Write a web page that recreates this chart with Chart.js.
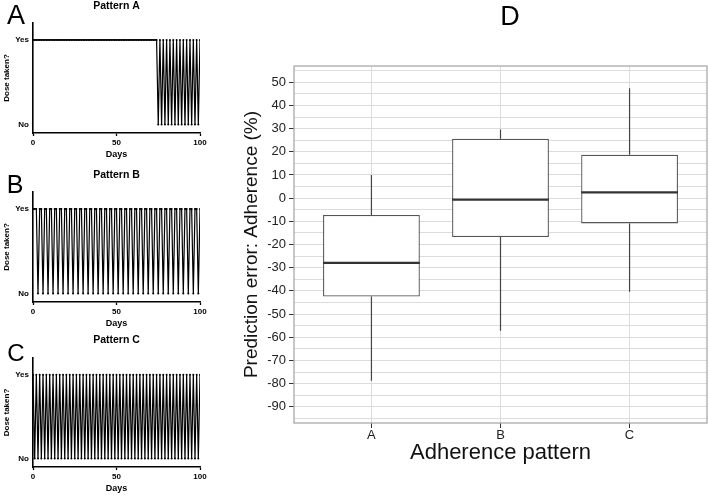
<!DOCTYPE html>
<html><head><meta charset="utf-8">
<script src="https://cdn.jsdelivr.net/npm/chart.js@4/dist/chart.umd.min.js"></script>
<style>
html,body{margin:0;padding:0;background:#fff;}
#wrap{position:relative;width:709px;height:496px;overflow:hidden;background:#fff;}
canvas{position:absolute;}
.lab{position:absolute;font-family:'Liberation Sans',Arial,sans-serif;color:#000;line-height:1;transform:translate(-50%,-50%);white-space:nowrap;}
</style></head><body>
<div id="wrap">
<canvas id="cA" width="210" height="160" style="left:0;top:0"></canvas>
<canvas id="cB" width="210" height="169" style="left:0;top:160px"></canvas>
<canvas id="cC" width="210" height="174" style="left:0;top:320px"></canvas>
<canvas id="cD" width="479" height="496" style="left:230px;top:0"></canvas>
<div class="lab" style="left:16px;top:15px;font-size:27px">A</div>
<div class="lab" style="left:15px;top:184px;font-size:25px">B</div>
<div class="lab" style="left:16px;top:353px;font-size:24px">C</div>
<div class="lab" style="left:510px;top:16px;font-size:27px">D</div>
</div>
<script>
// ---------- Panels A–C: dosing patterns ----------
const days = [0,1,2,3,4,5,6,7,8,9,10,11,12,13,14,15,16,17,18,19,
  20,21,22,23,24,25,26,27,28,29,30,31,32,33,34,35,36,37,38,39,
  40,41,42,43,44,45,46,47,48,49,50,51,52,53,54,55,56,57,58,59,
  60,61,62,63,64,65,66,67,68,69,70,71,72,73,74,75,76,77,78,79,
  80,81,82,83,84,85,86,87,88,89,90,91,92,93,94,95,96,97,98,99,100];
const dayTicks = [0, 50, 100];
const doseLabels = ['No', 'Yes'];

const patternA = [
  1,1,1,1,1, 1,1,1,1,1, 1,1,1,1,1, 1,1,1,1,1, 1,1,1,1,1,
  1,1,1,1,1, 1,1,1,1,1, 1,1,1,1,1, 1,1,1,1,1, 1,1,1,1,1,
  1,1,1,1,1, 1,1,1,1,1, 1,1,1,1,1, 1,1,1,1,1, 1,1,1,1,1,
  0,1,0,1,0,1,0,1,0,1,0,1,0,1,0,1,0,1,0,1,0,1,0,1,0,1];
const patternB = [1,1,1,
  0,1,1,0,1,1,0,1,1,0,1,1,0,1,1,0,1,1,0,1,1,0,1,1,
  0,1,1,0,1,1,0,1,1,0,1,1,0,1,1,0,1,1,0,1,1,0,1,1,
  0,1,1,0,1,1,0,1,1,0,1,1,0,1,1,0,1,1,0,1,1,0,1,1,
  0,1,1,0,1,1,0,1,1,0,1,1,0,1,1,0,1,1,0,1,1,0,1,1,
  0,1];
const patternC = [
  1,0,1,0,1,0,1,0,1,0,1,0,1,0,1,0,1,0,1,0,
  1,0,1,0,1,0,1,0,1,0,1,0,1,0,1,0,1,0,1,0,
  1,0,1,0,1,0,1,0,1,0,1,0,1,0,1,0,1,0,1,0,
  1,0,1,0,1,0,1,0,1,0,1,0,1,0,1,0,1,0,1,0,
  1,0,1,0,1,0,1,0,1,0,1,0,1,0,1,0,1,0,1,0,
  1];

// ---------- Panel D: box plot ----------
const categories = ['A', 'B', 'C'];
const whiskerLow  = [-78.8, -57.2, -40.4];
const q1          = [-42.4, -16.8, -10.9];
const median      = [-27.9,  -0.6,   2.5];
const q3          = [ -7.3,  25.6,  18.7];
const whiskerHigh = [ 10.0,  29.6,  47.4];
const yGridValues = [55,50,45,40,35,30,25,20,15,10,5,0,-5,-10,-15,-20,-25,-30,-35,-40,-45,-50,-55,-60,-65,-70,-75,-80,-85,-90,-95];

const FONT = "'Liberation Sans', Arial, Helvetica, sans-serif";
Chart.defaults.font.family = FONT;

function patternChart(id, titleText, values, padTop, padBottom) {
  return new Chart(document.getElementById(id), {
    type: 'line',
    data: { datasets: [{
      data: days.map((d, i) => ({ x: d, y: values[i] })),
      borderColor: '#000', borderWidth: 1.2,
      pointRadius: 1, pointBackgroundColor: '#000', pointBorderWidth: 0,
      tension: 0
    }]},
    options: {
      responsive: false, animation: false, devicePixelRatio: 1,
      layout: { padding: { left: 0, right: 10, top: 0, bottom: 0 } },
      plugins: {
        legend: { display: false }, tooltip: { enabled: false },
        title: { display: true, text: titleText, fullSize: false, color: '#000',
          font: { family: FONT, size: 10.5, weight: 'bold' },
          padding: { top: padTop, bottom: padBottom } }
      },
      scales: {
        x: {
          type: 'linear', min: 0, max: 100,
          afterBuildTicks: s => { s.ticks = dayTicks.map(v => ({ value: v })); },
          afterFit: s => { s.height = 27; },
          ticks: { color: '#000', font: { family: FONT, size: 8, weight: 'bold' }, padding: 2, maxRotation: 0 },
          grid: { drawOnChartArea: false, drawTicks: true, tickLength: 3, tickColor: '#000', tickWidth: 1.3 },
          border: { display: true, color: '#000', width: 1.6 },
          title: { display: true, text: 'Days', color: '#000',
            font: { family: FONT, size: 9, weight: 'bold' }, padding: { top: 0, bottom: 0 } }
        },
        y: {
          type: 'linear', min: -0.1, max: 1.2,
          afterBuildTicks: s => { s.ticks = [{ value: 0 }, { value: 1 }]; },
          afterFit: s => { s.width = 33; },
          ticks: { color: '#000', font: { family: FONT, size: 8, weight: 'bold' }, padding: 4,
            callback: v => doseLabels[v] },
          grid: { drawOnChartArea: false, drawTicks: false },
          border: { display: true, color: '#000', width: 1.6 },
          title: { display: true, text: 'Dose taken?', color: '#000',
            font: { family: FONT, size: 8, weight: 'bold' }, padding: { top: 2, bottom: 0 } }
        }
      }
    }
  });
}

patternChart('cA', 'Pattern A', patternA, 0, 10.4);
patternChart('cB', 'Pattern B', patternB, 8.7, 10.7);
patternChart('cC', 'Pattern C', patternC, 13.7, 11.7);

const boxParts = {
  id: 'boxParts',
  afterDatasetsDraw(chart) {
    const { ctx, scales: { x, y } } = chart;
    const meta = chart.getDatasetMeta(0);
    ctx.save();
    categories.forEach((c, i) => {
      const bar = meta.data[i];
      const cx = x.getPixelForValue(i + 1);
      const half = bar.width / 2;
      ctx.strokeStyle = '#444'; ctx.lineWidth = 1.2;
      ctx.beginPath();
      ctx.moveTo(cx, y.getPixelForValue(whiskerHigh[i])); ctx.lineTo(cx, y.getPixelForValue(q3[i]));
      ctx.moveTo(cx, y.getPixelForValue(q1[i])); ctx.lineTo(cx, y.getPixelForValue(whiskerLow[i]));
      ctx.stroke();
      ctx.strokeStyle = '#333'; ctx.lineWidth = 2.2;
      const my = y.getPixelForValue(median[i]);
      ctx.beginPath(); ctx.moveTo(cx - half, my); ctx.lineTo(cx + half, my); ctx.stroke();
    });
    const a = chart.chartArea;
    ctx.strokeStyle = '#aaaaaa'; ctx.lineWidth = 1.3;
    ctx.strokeRect(a.left, a.top, a.right - a.left, a.bottom - a.top);
    ctx.restore();
  }
};

new Chart(document.getElementById('cD'), {
  type: 'bar',
  data: { datasets: [{
    data: categories.map((c, i) => ({ x: i + 1, y: [q1[i], q3[i]] })),
    backgroundColor: '#fff', borderColor: '#555', borderWidth: 1.3, borderSkipped: false,
    barPercentage: 0.75, categoryPercentage: 1
  }]},
  options: {
    responsive: false, animation: false, devicePixelRatio: 1,
    layout: { padding: { top: 66, right: 2, bottom: 0, left: 0 } },
    plugins: { legend: { display: false }, tooltip: { enabled: false } },
    scales: {
      x: {
        type: 'linear', min: 0.4, max: 3.6, offset: false,
        afterBuildTicks: s => { s.ticks = categories.map((c, i) => ({ value: i + 1 })); },
        afterFit: s => { s.height = 73; },
        ticks: { color: '#222', font: { family: FONT, size: 13 }, padding: 0, maxRotation: 0,
          callback: v => categories[v - 1] },
        grid: { offset: false, color: '#dcdcdc', lineWidth: 1, tickLength: 5, tickColor: '#333', tickWidth: 1 },
        border: { display: false },
        title: { display: true, text: 'Adherence pattern', color: '#111',
          font: { family: FONT, size: 22 }, padding: { top: 0, bottom: 30 } }
      },
      y: {
        type: 'linear', min: -97, max: 57,
        afterBuildTicks: s => { s.ticks = yGridValues.map(v => ({ value: v })); },
        afterFit: s => { s.width = 64; },
        ticks: { autoSkip: false, color: '#222', font: { family: FONT, size: 13 }, padding: 3,
          callback: v => (v % 10 === 0 ? String(v) : '') },
        grid: { color: '#dcdcdc', lineWidth: 1, tickLength: 5,
          tickColor: ctx => (ctx.tick && ctx.tick.value % 10 === 0 ? '#333' : 'rgba(0,0,0,0)'), tickWidth: 1 },
        border: { display: false },
        title: { display: true, text: 'Prediction error: Adherence (%)', color: '#111',
          font: { family: FONT, size: 19 }, padding: { top: 10, bottom: 0 } }
      }
    }
  },
  plugins: [boxParts]
});
</script>
</body></html>
